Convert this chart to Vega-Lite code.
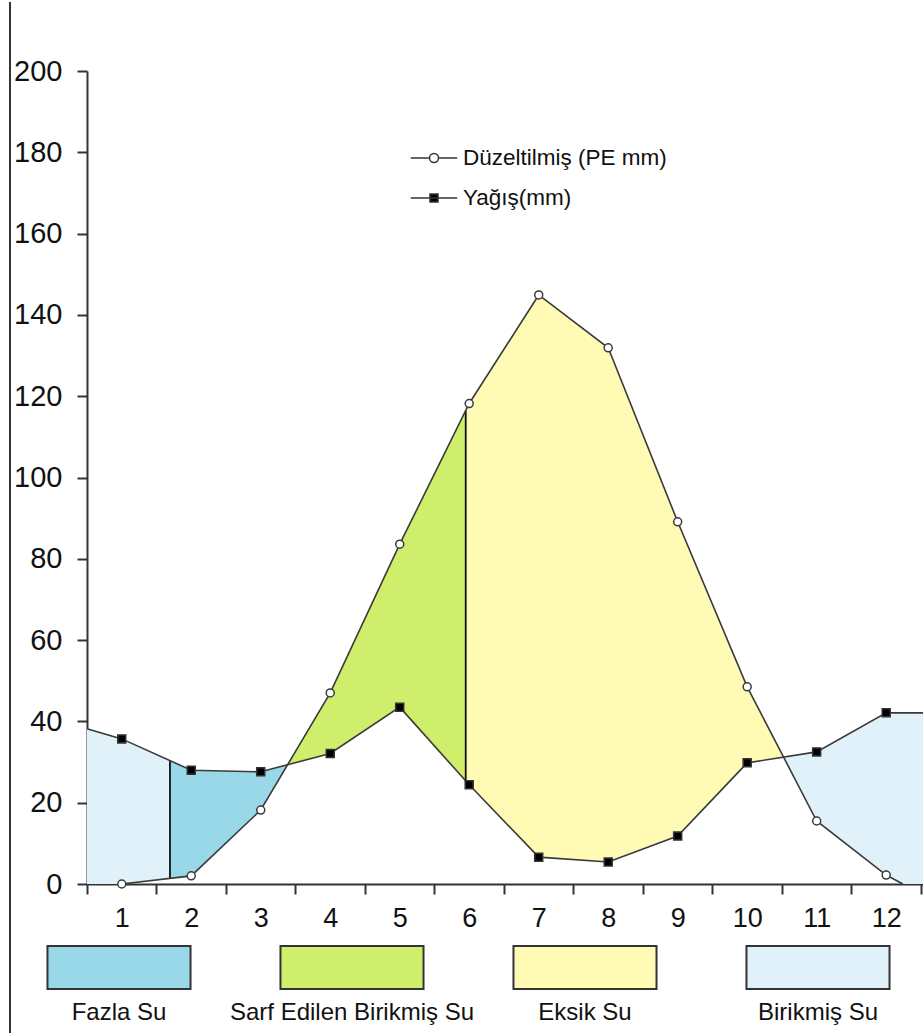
{
  "$schema": "https://vega.github.io/schema/vega-lite/v6.json",
  "autosize": {"type": "pad"},
  "padding": {"left": 9, "top": 0, "right": 0, "bottom": 0},
  "background": "white",
  "config": {
    "font": "Liberation Sans",
    "view": {"stroke": null},
    "axis": {"grid": false}
  },
  "datasets": {
    "areas": [
      {"region": "Birikmiş Su", "part": "L", "month": 0.5, "top": 38.2, "bottom": 0},
      {"region": "Birikmiş Su", "part": "L", "month": 1, "top": 35.7, "bottom": 0},
      {"region": "Birikmiş Su", "part": "L", "month": 1.694, "top": 30.36, "bottom": 1.39},
      {"region": "Fazla Su", "part": "F", "month": 1.694, "top": 30.36, "bottom": 1.39},
      {"region": "Fazla Su", "part": "F", "month": 2, "top": 28.0, "bottom": 2.0},
      {"region": "Fazla Su", "part": "F", "month": 3, "top": 27.6, "bottom": 18.2},
      {"region": "Fazla Su", "part": "F", "month": 3.387, "top": 29.34, "bottom": 29.34},
      {"region": "Sarf Edilen Birikmiş Su", "part": "S", "month": 3.387, "top": 29.34, "bottom": 29.34},
      {"region": "Sarf Edilen Birikmiş Su", "part": "S", "month": 4, "top": 47.0, "bottom": 32.1},
      {"region": "Sarf Edilen Birikmiş Su", "part": "S", "month": 5, "top": 83.6, "bottom": 43.5},
      {"region": "Sarf Edilen Birikmiş Su", "part": "S", "month": 5.95, "top": 116.5, "bottom": 25.4},
      {"region": "Eksik Su", "part": "E", "month": 5.95, "top": 116.5, "bottom": 25.4},
      {"region": "Eksik Su", "part": "E", "month": 6, "top": 118.2, "bottom": 24.4},
      {"region": "Eksik Su", "part": "E", "month": 7, "top": 144.9, "bottom": 6.6},
      {"region": "Eksik Su", "part": "E", "month": 8, "top": 131.9, "bottom": 5.4},
      {"region": "Eksik Su", "part": "E", "month": 9, "top": 89.1, "bottom": 11.8},
      {"region": "Eksik Su", "part": "E", "month": 10, "top": 48.5, "bottom": 29.8},
      {"region": "Eksik Su", "part": "E", "month": 10.524, "top": 31.2, "bottom": 31.2},
      {"region": "Birikmiş Su", "part": "R", "month": 10.524, "top": 31.2, "bottom": 31.2},
      {"region": "Birikmiş Su", "part": "R", "month": 11, "top": 32.5, "bottom": 15.5},
      {"region": "Birikmiş Su", "part": "R", "month": 12, "top": 42.1, "bottom": 2.2},
      {"region": "Birikmiş Su", "part": "R", "month": 12.24, "top": 42.1, "bottom": 0},
      {"region": "Birikmiş Su", "part": "R", "month": 12.53, "top": 42.1, "bottom": 0}
    ],
    "lines": [
      {"series": "Düzeltilmiş (PE mm)", "month": 1, "value": 0, "marker": true},
      {"series": "Düzeltilmiş (PE mm)", "month": 2, "value": 2.0, "marker": true},
      {"series": "Düzeltilmiş (PE mm)", "month": 3, "value": 18.2, "marker": true},
      {"series": "Düzeltilmiş (PE mm)", "month": 4, "value": 47.0, "marker": true},
      {"series": "Düzeltilmiş (PE mm)", "month": 5, "value": 83.6, "marker": true},
      {"series": "Düzeltilmiş (PE mm)", "month": 6, "value": 118.2, "marker": true},
      {"series": "Düzeltilmiş (PE mm)", "month": 7, "value": 144.9, "marker": true},
      {"series": "Düzeltilmiş (PE mm)", "month": 8, "value": 131.9, "marker": true},
      {"series": "Düzeltilmiş (PE mm)", "month": 9, "value": 89.1, "marker": true},
      {"series": "Düzeltilmiş (PE mm)", "month": 10, "value": 48.5, "marker": true},
      {"series": "Düzeltilmiş (PE mm)", "month": 11, "value": 15.5, "marker": true},
      {"series": "Düzeltilmiş (PE mm)", "month": 12, "value": 2.2, "marker": true},
      {"series": "Düzeltilmiş (PE mm)", "month": 12.24, "value": 0, "marker": false},
      {"series": "Yağış(mm)", "month": 0.5, "value": 38.2, "marker": false},
      {"series": "Yağış(mm)", "month": 1, "value": 35.7, "marker": true},
      {"series": "Yağış(mm)", "month": 2, "value": 28.0, "marker": true},
      {"series": "Yağış(mm)", "month": 3, "value": 27.6, "marker": true},
      {"series": "Yağış(mm)", "month": 4, "value": 32.1, "marker": true},
      {"series": "Yağış(mm)", "month": 5, "value": 43.5, "marker": true},
      {"series": "Yağış(mm)", "month": 6, "value": 24.4, "marker": true},
      {"series": "Yağış(mm)", "month": 7, "value": 6.6, "marker": true},
      {"series": "Yağış(mm)", "month": 8, "value": 5.4, "marker": true},
      {"series": "Yağış(mm)", "month": 9, "value": 11.8, "marker": true},
      {"series": "Yağış(mm)", "month": 10, "value": 29.8, "marker": true},
      {"series": "Yağış(mm)", "month": 11, "value": 32.5, "marker": true},
      {"series": "Yağış(mm)", "month": 12, "value": 42.1, "marker": true},
      {"series": "Yağış(mm)", "month": 12.53, "value": 42.1, "marker": false}
    ],
    "splits": [
      {"month": 1.694, "low": 1.39, "high": 30.36},
      {"month": 5.95, "low": 25.4, "high": 116.5}
    ],
    "legend": [
      {"label": "Fazla Su"},
      {"label": "Sarf Edilen Birikmiş Su"},
      {"label": "Eksik Su"},
      {"label": "Birikmiş Su"}
    ]
  },
  "vconcat": [
    {
      "width": 836,
      "height": 813,
      "resolve": {"axis": {"x": "independent"}},
      "layer": [
        {
          "data": {"name": "areas"},
          "mark": {"type": "area", "opacity": 1, "strokeWidth": 0},
          "encoding": {
            "x": {"field": "month", "type": "quantitative",
              "scale": {"domain": [0.5, 12.53], "nice": false, "zero": false},
              "axis": {
                "orient": "bottom",
                "values": [0.5, 1.5, 2.5, 3.5, 4.5, 5.5, 6.5, 7.5, 8.5, 9.5, 10.5, 11.5, 12.5],
                "labels": false,
                "tickSize": 10, "tickWidth": 2, "tickColor": "#333",
                "domainColor": "#333", "domainWidth": 2,
                "title": null, "grid": false
              }
            },
            "y": {"field": "top", "type": "quantitative",
              "scale": {"domain": [0, 200], "nice": false, "zero": false},
              "axis": {
                "values": [0, 20, 40, 60, 80, 100, 120, 140, 160, 180, 200],
                "tickSize": 10, "tickWidth": 2, "tickColor": "#333",
                "domainColor": "#333", "domainWidth": 2,
                "labelFontSize": 29, "labelPadding": 15, "labelColor": "#111",
                "title": null, "grid": false
              }
            },
            "y2": {"field": "bottom"},
            "color": {"field": "region", "type": "nominal",
              "scale": {"domain": ["Fazla Su", "Sarf Edilen Birikmiş Su", "Eksik Su", "Birikmiş Su"],
                "range": ["#99D8E9", "#CFEE6C", "#FFFAB4", "#E0F1F9"]},
              "legend": null},
            "detail": {"field": "part"}
          }
        },
        {
          "data": {"name": "splits"},
          "mark": {"type": "rule", "color": "#111", "strokeWidth": 1.8},
          "encoding": {
            "x": {"field": "month", "type": "quantitative", "axis": null},
            "y": {"field": "low", "type": "quantitative"},
            "y2": {"field": "high"}
          }
        },
        {
          "data": {"name": "lines"},
          "mark": {"type": "line", "color": "#3a3a3a", "strokeWidth": 1.6},
          "encoding": {
            "x": {"field": "month", "type": "quantitative",
              "axis": {
                "orient": "bottom",
                "values": [1, 2, 3, 4, 5, 6, 7, 8, 9, 10, 11, 12],
                "ticks": true, "tickSize": 10, "tickOpacity": 0, "domain": false,
                "labelFontSize": 27, "labelPadding": 11, "labelColor": "#111",
                "labelBaseline": "top",
                "title": null, "grid": false
              }
            },
            "y": {"field": "value", "type": "quantitative"},
            "detail": {"field": "series"}
          }
        },
        {
          "data": {"name": "lines"},
          "transform": [{"filter": "datum.marker && datum.series == 'Düzeltilmiş (PE mm)'"}],
          "mark": {"type": "point", "filled": true, "shape": "circle", "size": 64, "stroke": "#3a3a3a", "strokeWidth": 1.5, "opacity": 1},
          "encoding": {
            "x": {"field": "month", "type": "quantitative", "axis": null},
            "y": {"field": "value", "type": "quantitative"},
            "fill": {"field": "series", "type": "nominal",
              "scale": {"domain": ["Düzeltilmiş (PE mm)"], "range": ["#ffffff"]},
              "legend": {
                "title": null, "orient": "none", "legendX": 330, "legendY": 70,
                "symbolType": "M-1.45,0H-0.28M0.28,0H1.45M0.28,0A0.28,0.28 0 1,1 -0.28,0A0.28,0.28 0 1,1 0.28,0Z",
                "symbolSize": 1024, "symbolStrokeColor": "#333333", "symbolStrokeWidth": 1.5,
                "padding": 0, "labelFontSize": 22.5, "labelColor": "#111", "labelOffset": 12,
                "labelLimit": 400
              }
            }
          }
        },
        {
          "data": {"name": "lines"},
          "transform": [{"filter": "datum.marker && datum.series == 'Yağış(mm)'"}],
          "mark": {"type": "point", "filled": true, "shape": "square", "size": 64, "fill": "#000000", "strokeWidth": 1.5, "opacity": 1},
          "encoding": {
            "x": {"field": "month", "type": "quantitative", "axis": null},
            "y": {"field": "value", "type": "quantitative"},
            "stroke": {"field": "series", "type": "nominal",
              "scale": {"domain": ["Yağış(mm)"], "range": ["#333333"]},
              "legend": {
                "title": null, "orient": "none", "legendX": 330, "legendY": 110,
                "symbolType": "M-1.45,0H1.45M-0.25,-0.25H0.25V0.25H-0.25Z",
                "symbolSize": 1024, "symbolFillColor": "#000000", "symbolStrokeWidth": 1.5,
                "padding": 0, "labelFontSize": 22.5, "labelColor": "#111", "labelOffset": 12,
                "labelLimit": 400
              }
            }
          }
        },
        {
          "data": {"values": [{}]},
          "mark": {"type": "rule", "color": "#333", "strokeWidth": 2},
          "encoding": {
            "x": {"datum": -0.608, "type": "quantitative", "axis": null},
            "y": {"datum": 217, "type": "quantitative"},
            "y2": {"datum": -37.15}
          }
        }
      ]
    },
    {
      "width": 836,
      "height": 86,
      "data": {"name": "legend"},
      "encoding": {
        "x": {"field": "label", "type": "nominal", "sort": null,
          "scale": {"domain": ["Fazla Su", "Sarf Edilen Birikmiş Su", "Eksik Su", "Birikmiş Su"],
            "range": [-84.5, 847.5], "paddingInner": 0.386, "paddingOuter": 0.193},
          "axis": null}
      },
      "layer": [
        {
          "mark": {"type": "rect", "stroke": "#333", "strokeWidth": 2},
          "encoding": {
            "y": {"datum": "swatch", "type": "nominal",
              "scale": {"domain": ["swatch", "label"], "paddingInner": 0, "paddingOuter": 0},
              "axis": null},
            "color": {"field": "label", "type": "nominal",
              "scale": {"domain": ["Fazla Su", "Sarf Edilen Birikmiş Su", "Eksik Su", "Birikmiş Su"],
                "range": ["#99D8E9", "#CFEE6C", "#FFFAB4", "#E0F1F9"]},
              "legend": null}
          }
        },
        {
          "mark": {"type": "text", "fontSize": 24, "color": "#111", "baseline": "middle", "dy": 2},
          "encoding": {
            "y": {"datum": "label", "type": "nominal"},
            "text": {"field": "label", "type": "nominal"}
          }
        }
      ]
    }
  ],
  "spacing": 62,
  "bounds": "flush"
}
